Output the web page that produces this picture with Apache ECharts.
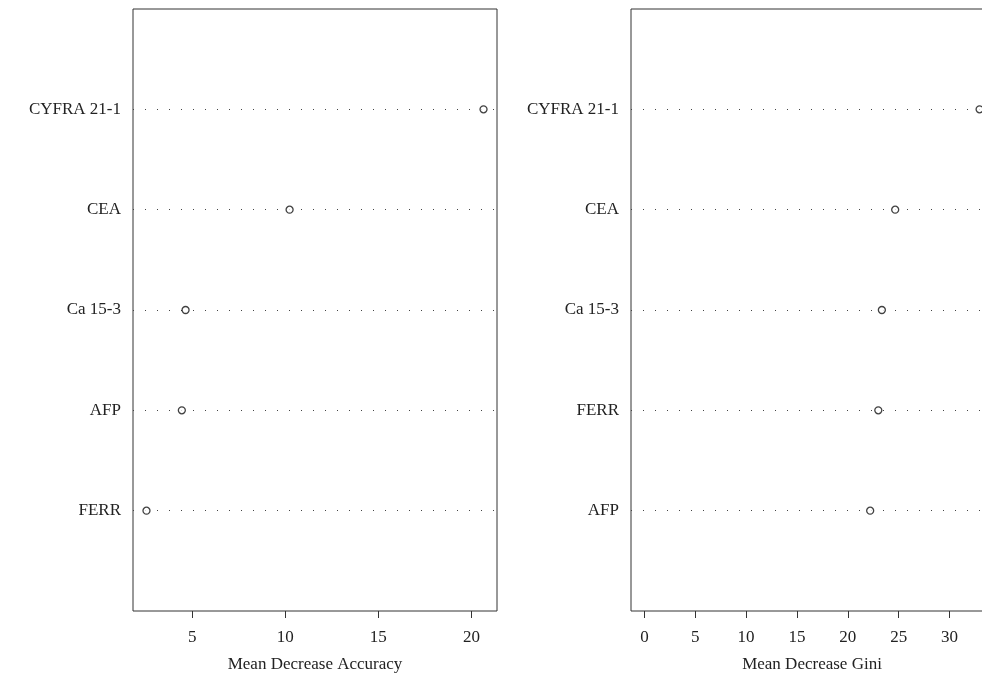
<!DOCTYPE html>
<html>
<head>
<meta charset="utf-8">
<script src="https://cdn.jsdelivr.net/npm/echarts@6/dist/echarts.min.js"></script>
<style>
  html, body { margin: 0; padding: 0; background: #fff; }
  #chart { width: 982px; height: 678px; }
</style>
</head>
<body>
<div id="chart"></div>
<script>
// categories, bottom to top
var accCats = ["FERR", "AFP", "Ca 15-3", "CEA", "CYFRA 21-1"];
var accVals = [2.54, 4.44, 4.64, 10.23, 20.65];
var accTicks = [5, 10, 15, 20];

var giniCats = ["AFP", "FERR", "Ca 15-3", "CEA", "CYFRA 21-1"];
var giniVals = [22.2, 23.0, 23.35, 24.66, 32.96];
var giniTicks = [0, 5, 10, 15, 20, 25, 30];

var font = "Liberation Serif";
var ink = "#222";

// R dotchart: range extended 4% each side
function ext(lo, hi) {
  var d = (hi - lo) * 0.04;
  return [lo - d, hi + d];
}
var accRange = ext(Math.min.apply(null, accVals), Math.max.apply(null, accVals));
var giniRange = ext(0, Math.max.apply(null, giniVals));

function xAxisFor(idx, range, ticks, name) {
  return {
    gridIndex: idx,
    type: "value",
    min: range[0],
    max: range[1],
    name: name,
    nameLocation: "middle",
    nameGap: 45,
    nameTextStyle: { fontFamily: font, fontSize: 17, color: ink },
    axisLine: { show: false },
    axisTick: { show: true, length: 7, customValues: ticks, lineStyle: { color: "#333" } },
    axisLabel: { customValues: ticks, margin: 18, fontFamily: font, fontSize: 17, color: ink },
    splitLine: { show: false }
  };
}

function yAxisFor(idx, cats) {
  return {
    gridIndex: idx,
    type: "value",
    min: 0,
    max: cats.length + 1,
    interval: 1,
    axisLine: { show: false },
    axisTick: { show: false },
    axisLabel: {
      margin: 12,
      fontFamily: font,
      fontSize: 17,
      color: ink,
      formatter: function (v) { return cats[v - 1] || ""; }
    },
    splitLine: { show: false }
  };
}

function seriesFor(idx, vals) {
  return {
    type: "scatter",
    xAxisIndex: idx,
    yAxisIndex: idx,
    symbol: "circle",
    symbolSize: 7,
    itemStyle: { color: "#fff", borderColor: "#111", borderWidth: 1.3 },
    data: vals.map(function (v, i) { return [v, i + 1]; }),
    z: 5,
    markLine: {
      silent: true,
      symbol: "none",
      label: { show: false },
      lineStyle: { color: "#444", width: 1, type: [1, 11] },
      data: vals.map(function (v, i) { return { yAxis: i + 1 }; }),
      z: 1
    }
  };
}

var myChart = echarts.init(document.getElementById("chart"), null, { renderer: "canvas" });

var option = {
  animation: false,
  backgroundColor: "#fff",
  grid: [
    { left: 133, top: 9, width: 364, height: 602, show: true, borderColor: "#333", borderWidth: 1, outerBoundsMode: "none", containLabel: false },
    { left: 631, top: 9, width: 362, height: 602, show: true, borderColor: "#333", borderWidth: 1, outerBoundsMode: "none", containLabel: false }
  ],
  xAxis: [
    xAxisFor(0, accRange, accTicks, "Mean Decrease Accuracy"),
    xAxisFor(1, giniRange, giniTicks, "Mean Decrease Gini")
  ],
  yAxis: [yAxisFor(0, accCats), yAxisFor(1, giniCats)],
  series: [seriesFor(0, accVals), seriesFor(1, giniVals)]
};

myChart.setOption(option);
</script>
</body>
</html>
